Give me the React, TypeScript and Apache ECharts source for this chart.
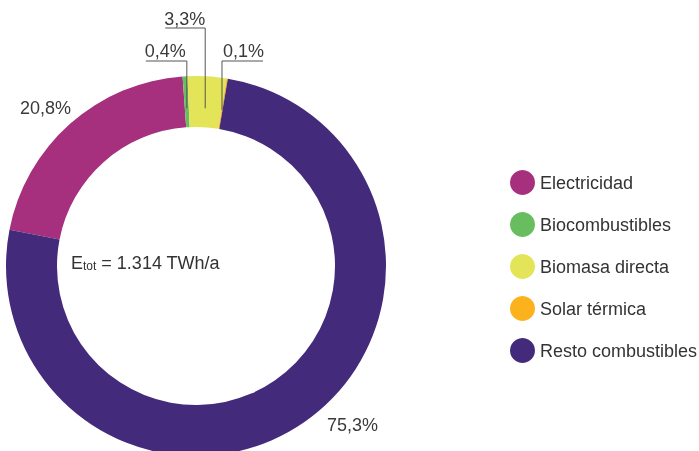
import React, { useEffect, useRef } from 'react';
import * as echarts from 'echarts';

const categories = ['Electricidad', 'Biocombustibles', 'Biomasa directa', 'Solar térmica', 'Resto combustibles'];
const shares = [20.8, 0.4, 3.3, 0.1, 75.3];
const colors = ['#A6307E', '#68BD5F', '#E3E458', '#FBB21D', '#432A7A'];
const totalValue = '1.314 TWh/a';

const FONT = '"Liberation Sans", Arial, Helvetica, sans-serif';
const CX = 196;
const CY = 266;
const R_IN = 139;
const R_OUT = 190;
const START = 169;

function fmt(v: number) {
  return v.toFixed(1).replace('.', ',') + '%';
}

export default function App() {
  const ref = useRef<HTMLDivElement>(null);
  useEffect(() => {
    const chart = echarts.init(ref.current!, null, { renderer: 'svg' });
    const total = shares.reduce((a, b) => a + b, 0);
    const anchor = (i: number) => {
      const before = shares.slice(0, i).reduce((a, b) => a + b, 0);
      const mid = START - ((before + shares[i] / 2) / total) * 360;
      const rad = (mid * Math.PI) / 180;
      const r = 158;
      return [CX + r * Math.cos(rad), CY - r * Math.sin(rad)];
    };
    const leader = [false, true, true, true, false];
    const layoutFor = (i: number): any => {
      if (i === 0) return { x: 20, y: 108, align: 'left', verticalAlign: 'middle' };
      if (i === 4) return { x: 327, y: 425, align: 'left', verticalAlign: 'middle' };
      const [ax, ay] = anchor(i);
      if (i === 1) {
        return {
          x: ax - 1, y: 51, align: 'right', verticalAlign: 'middle',
          labelLinePoints: [[ax, ay], [ax, 61], [ax - 41, 61]],
        };
      }
      if (i === 2) {
        return {
          x: ax, y: 19, align: 'right', verticalAlign: 'middle',
          labelLinePoints: [[ax, ay], [ax, 28], [ax - 40, 28]],
        };
      }
      return {
        x: ax + 1, y: 51, align: 'left', verticalAlign: 'middle',
        labelLinePoints: [[ax, ay], [ax, 61], [ax + 41, 61]],
      };
    };

    chart.setOption({
      animation: false,
      color: colors,
      legend: {
        data: categories,
        orient: 'vertical',
        left: 510,
        top: 170,
        padding: 0,
        itemWidth: 25,
        itemHeight: 25,
        itemGap: 17,
        icon: 'circle',
        selectedMode: false,
        textStyle: { fontSize: 18, color: '#333', fontFamily: FONT },
      },
      graphic: [
        {
          type: 'text',
          x: 71,
          y: 263,
          silent: true,
          style: {
            text: '{e|E}{s|tot}{e| = ' + totalValue + '}',
            verticalAlign: 'middle',
            fill: '#333',
            rich: {
              e: { fontSize: 18, fontFamily: FONT, fill: '#333', verticalAlign: 'bottom' },
              s: { fontSize: 12, fontFamily: FONT, fill: '#333', verticalAlign: 'bottom' },
            },
          },
        },
      ],
      series: [
        {
          type: 'pie',
          name: 'ring',
          center: [CX, CY],
          radius: [R_IN, R_OUT],
          startAngle: START,
          clockwise: true,
          silent: true,
          z: 2,
          itemStyle: { borderWidth: 0 },
          label: { show: false },
          labelLine: { show: false },
          data: categories.map((name, i) => ({ name, value: shares[i] })),
        },
        {
          type: 'pie',
          name: 'labels',
          center: [CX, CY],
          radius: [R_IN, R_OUT],
          startAngle: START,
          clockwise: true,
          silent: true,
          legendHoverLink: false,
          z: 5,
          avoidLabelOverlap: false,
          itemStyle: { borderWidth: 0, color: 'rgba(0,0,0,0)' },
          label: {
            show: true,
            position: 'outside',
            formatter: (p: any) => fmt(p.value),
            fontSize: 18,
            color: '#3a3a3a',
            fontFamily: FONT,
          },
          labelLine: {
            show: true,
            length: 5,
            length2: 5,
            smooth: false,
            lineStyle: { color: '#555', width: 1 },
          },
          labelLayout: (params: any) => layoutFor(params.dataIndex),
          data: categories.map((name, i) => ({
            name,
            value: shares[i],
            labelLine: { show: leader[i] },
          })),
        },
      ],
    });
    return () => chart.dispose();
  }, []);
  return <div ref={ref} style={{ position: 'fixed', left: 0, top: 0, width: 699, height: 451 }} />;
}
